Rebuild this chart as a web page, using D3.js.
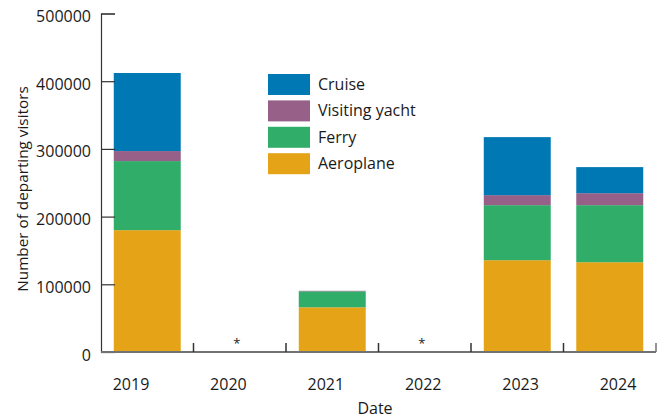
<!DOCTYPE html>
<html><head><meta charset="utf-8">
<script src="https://cdn.jsdelivr.net/npm/d3@7/dist/d3.min.js"></script>
<style>body{margin:0;background:#fff;} text{font-family:"Open Sans",sans-serif;fill:#1a1a1a;}</style>
</head><body><svg id="c" width="665" height="420"></svg>
<script>
const years = ["2019","2020","2021","2022","2023","2024"];
const aeroplane = [180000, 0, 66000, 0, 135600, 132600];
const ferry = [102000, 0, 23600, 0, 81300, 84300];
const yacht = [14800, 0, 800, 0, 14800, 17700];
const cruise = [115300, 0, 0, 0, 85700, 38500];
const noData = ["", "*", "", "*", "", ""];
const seriesNames = ["Aeroplane","Ferry","Visiting yacht","Cruise"];
const seriesColors = ["#E5A418","#31AD6A","#966089","#0078B4"];
const yTicks = [0,100000,200000,300000,400000,500000];

const rows = years.map((y,i)=>({year:y, "Aeroplane":aeroplane[i], "Ferry":ferry[i], "Visiting yacht":yacht[i], "Cruise":cruise[i]}));
const svg = d3.select("#c");
const x0 = 101, x1 = 656, yTop = 13.5, yBot = 352;
const x = d3.scaleBand().domain(years).range([x0,x1]).paddingInner(0.276).paddingOuter(0.138);
const y = d3.scaleLinear().domain([0,500000]).range([yBot,yTop]);
const color = d3.scaleOrdinal().domain(seriesNames).range(seriesColors);
const stack = d3.stack().keys(seriesNames)(rows);

svg.append("g").selectAll("g").data(stack).join("g").attr("fill",d=>color(d.key))
  .selectAll("rect").data(d=>d).join("rect")
  .attr("x",d=>x(d.data.year)).attr("width",x.bandwidth())
  .attr("y",d=>y(d[1])).attr("height",d=>y(d[0])-y(d[1]));

// y axis
const yAxis = d3.axisLeft(y).tickValues(yTicks).tickSize(-14).tickPadding(9).tickFormat(d3.format("d"));
const gy = svg.append("g").attr("transform",`translate(${x0},0)`).call(yAxis);
gy.select(".domain").attr("stroke","#333").attr("stroke-width",1.2);
gy.selectAll(".tick line").attr("stroke","#333").attr("stroke-width",1.2);
gy.selectAll(".tick text").attr("font-size",16).attr("font-family","'Open Sans',sans-serif").attr("fill","#1a1a1a").attr("x",-10).attr("dy","0.5em");

// x axis baseline + boundary ticks
const bounds = d3.scaleLinear().domain([0,6]).range([x0,x1]);
svg.append("line").attr("x1",x0).attr("x2",x1).attr("y1",yBot).attr("y2",yBot).attr("stroke","#6f7374").attr("stroke-width",2);
svg.append("g").selectAll("line").data(d3.range(1,7)).join("line")
  .attr("x1",d=>bounds(d)).attr("x2",d=>bounds(d)).attr("y1",yBot).attr("y2",yBot-9)
  .attr("stroke",(d)=>d===6?"#6f7374":"#333").attr("stroke-width",1.5);

// x labels
const xl = d3.scalePoint().domain(years).range([131,618]);
svg.append("g").selectAll("text").data(years).join("text")
  .attr("x",d=>xl(d)).attr("y",390).attr("text-anchor","middle").attr("font-size",16).text(d=>d);

// no-data asterisks
svg.append("g").selectAll("text").data(years.filter((d,i)=>noData[i])).join("text")
  .attr("x",d=>x(d)+x.bandwidth()/2-3).attr("y",348).attr("text-anchor","middle").attr("font-size",13).text("*");

// axis titles
svg.append("text").attr("x",375).attr("y",414).attr("text-anchor","middle").attr("font-size",16).text("Date");
svg.append("text").attr("transform","translate(28,189) rotate(-90)").attr("text-anchor","middle").attr("font-size",15.3).text("Number of departing visitors");

// legend
const legOrder = ["Cruise","Visiting yacht","Ferry","Aeroplane"];
const lg = svg.append("g").attr("transform","translate(268,74)");
const li = lg.selectAll("g").data(legOrder).join("g").attr("transform",(d,i)=>`translate(0,${i*26.4})`);
li.append("rect").attr("width",42).attr("height",21).attr("fill",d=>color(d));
li.append("text").attr("x",50).attr("y",16).attr("font-size",16).text(d=>d);
</script></body></html>
